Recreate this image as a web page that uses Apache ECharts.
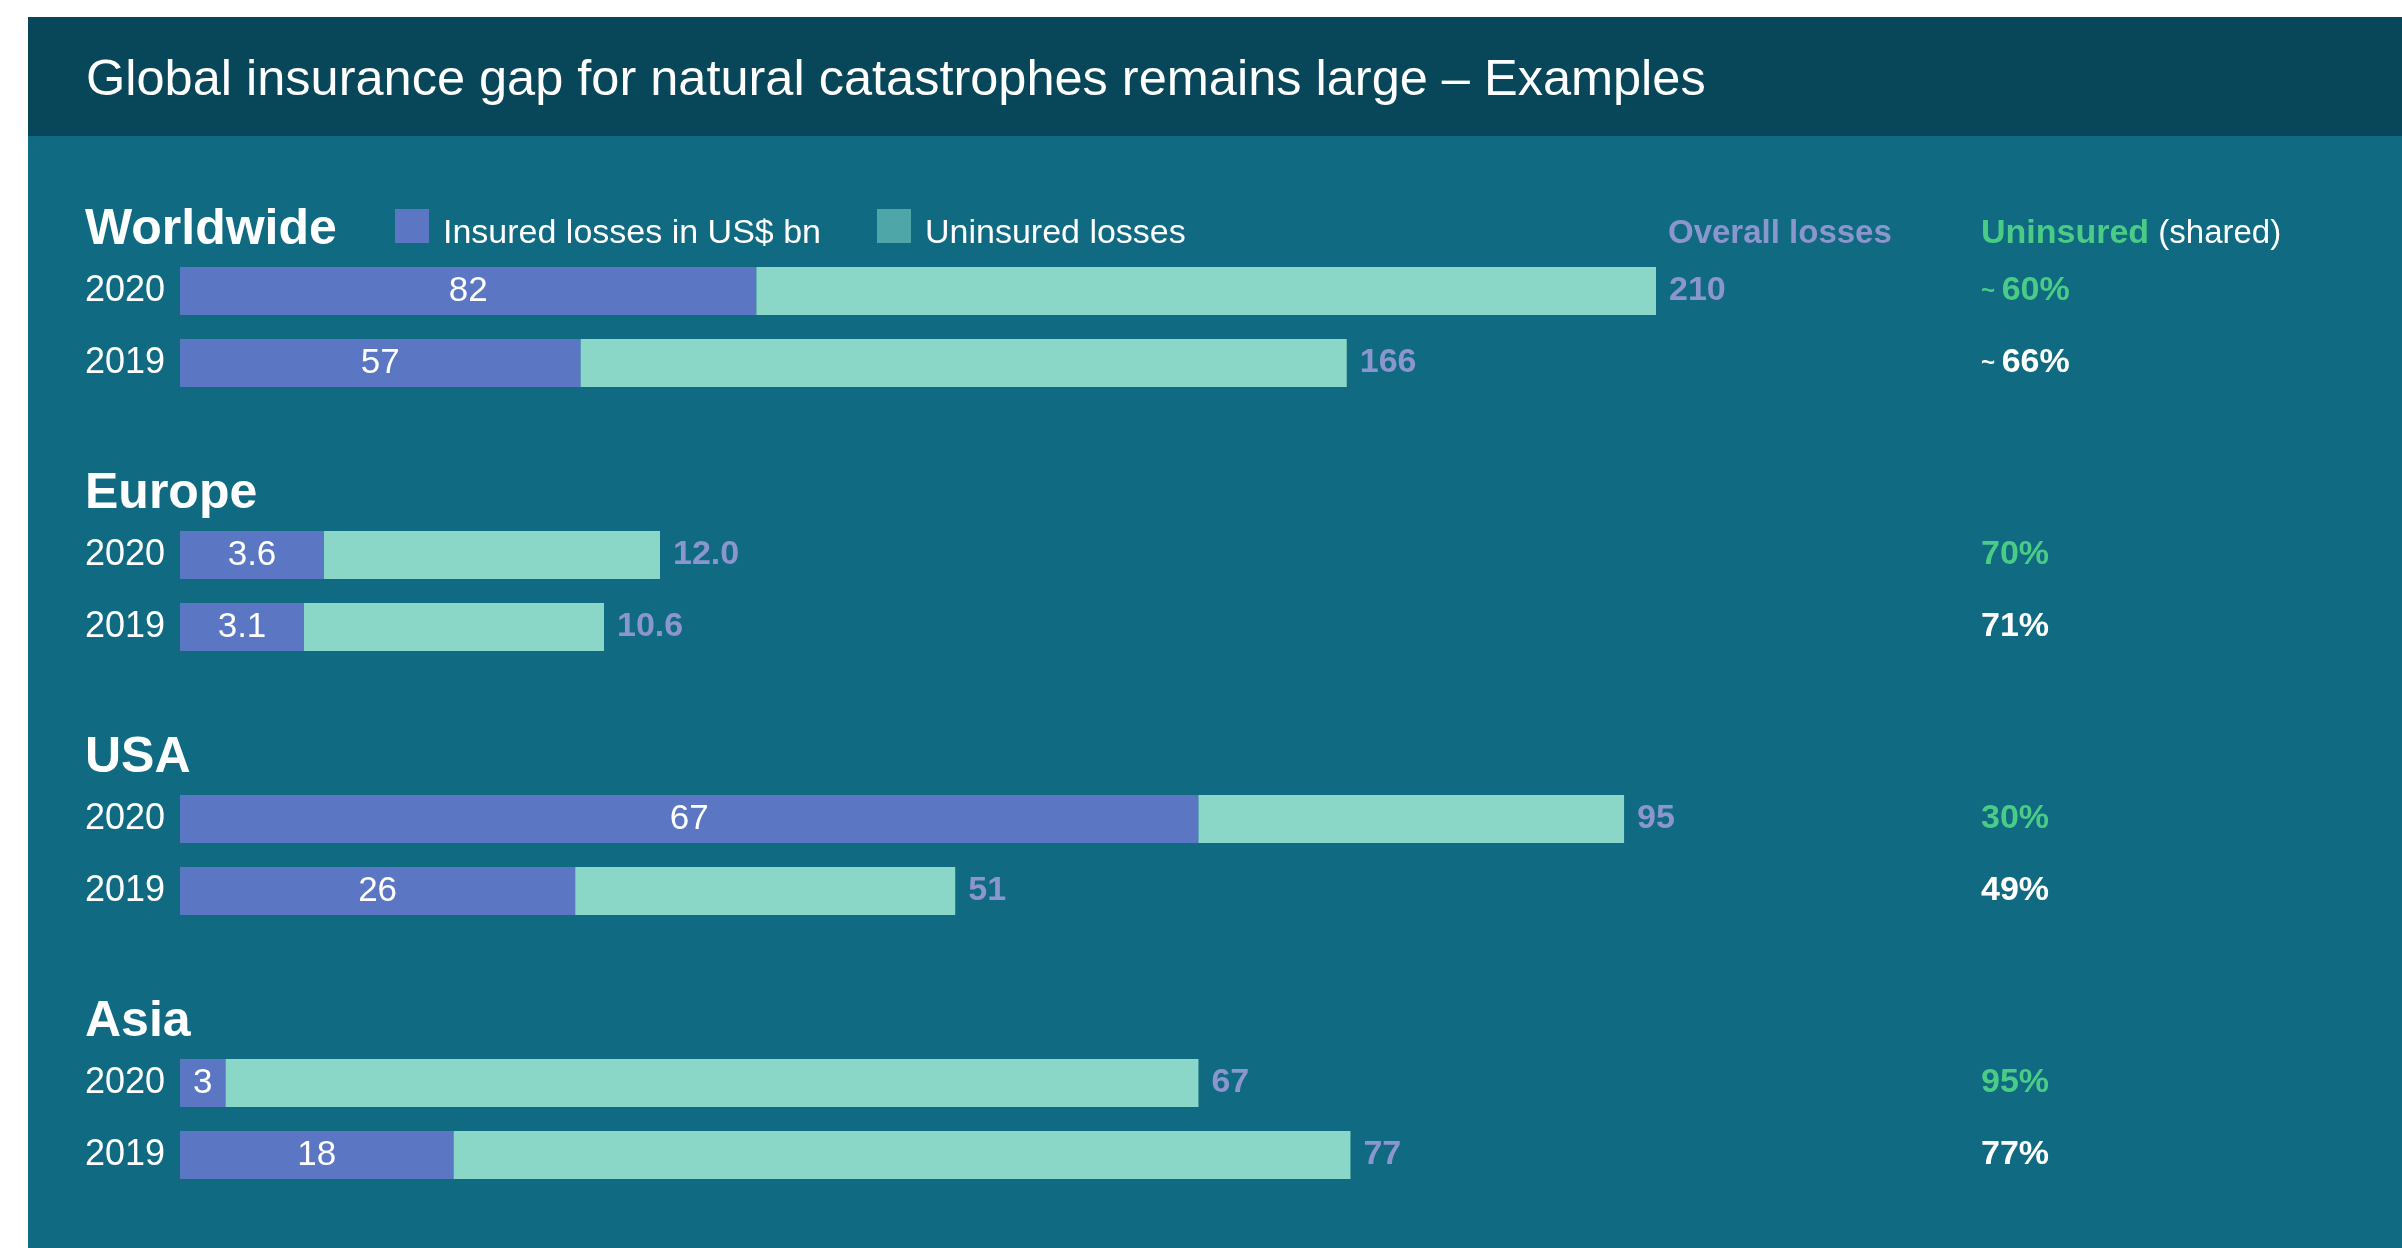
<!DOCTYPE html>
<html>
<head>
<meta charset="utf-8">
<script src="https://cdn.jsdelivr.net/npm/echarts@6/dist/echarts.min.js"></script>
<style>
html,body{margin:0;padding:0;background:#ffffff;}
#chart{width:2402px;height:1248px;}
</style>
</head>
<body>
<div id="chart"></div>
<script>
// ---- data ----
const groups = ['Worldwide', 'Europe', 'USA', 'Asia'];
const years = ['2020', '2019'];
const insuredLosses = [[82, 57], [3.6, 3.1], [67, 26], [3, 18]];
const overallLosses = [[210, 166], [12.0, 10.6], [95, 51], [67, 77]];
const valueDecimals = [0, 1, 0, 0];
const uninsuredShare = [[60, 66], [70, 71], [30, 49], [95, 77]];
const shareApprox = [true, false, false, false];
const axisMax = [210, 36.9, 97.1, 97.1];

// ---- layout / style ----
const FONT = '"Liberation Sans", Arial, sans-serif';
const C_INS = '#5B76C2', C_UNINS = '#8AD7C7', C_LEG_UNINS = '#4FA6A8';
const C_LAV = '#8B96CE', C_GREEN = '#4ACB86';
const GRID_LEFT = 180, GRID_W = 1476, GROUP_STEP = 264, FIRST_TOP = 255, GRID_H = 144;
const SHARE_X = 1981;
// square swatch 34x34 at the top of a 34x50 icon box (text sits a bit lower than swatch centre)
const LEGEND_ICON = 'path://M0,0h34v34h-34zM0,49.95h0.05v0.05h-0.05z';

const grids = [], xAxes = [], yAxes = [], series = [], graphics = [];

graphics.push({type: 'rect', z: -10, shape: {x: 28, y: 17, width: 2402 - 28, height: 1248 - 17}, style: {fill: '#0F6A82'}});
graphics.push({type: 'rect', z: -9, shape: {x: 28, y: 17, width: 2402 - 28, height: 119}, style: {fill: '#08475A'}});
graphics.push({type: 'text', x: 86, y: 81, style: {text: 'Global insurance gap for natural catastrophes remains large \u2013 Examples', fill: '#ffffff', font: '50.5px ' + FONT, verticalAlign: 'middle'}});
graphics.push({type: 'text', x: 1668, y: 234, style: {text: 'Overall losses', fill: C_LAV, font: 'bold 33px ' + FONT, verticalAlign: 'middle'}});
graphics.push({type: 'text', x: SHARE_X, y: 234, style: {
  text: '{g|Uninsured}{w| (shared)}', verticalAlign: 'middle',
  rich: {g: {fill: C_GREEN, font: 'bold 34px ' + FONT}, w: {fill: '#ffffff', font: '33px ' + FONT}}
}});

groups.forEach((g, i) => {
  const top = FIRST_TOP + GROUP_STEP * i;
  graphics.push({type: 'text', x: 85, y: top - 25, style: {text: g, fill: '#ffffff', font: 'bold 50px ' + FONT, verticalAlign: 'middle'}});
  grids.push({left: GRID_LEFT, top: top, width: GRID_W, height: GRID_H});
  xAxes.push({type: 'value', gridIndex: i, min: 0, max: axisMax[i], show: false});
  yAxes.push({
    type: 'category', gridIndex: i, data: years, inverse: true,
    axisLine: {show: false}, axisTick: {show: false}, splitLine: {show: false},
    axisLabel: {color: '#ffffff', fontSize: 36, fontFamily: FONT, margin: 15}
  });
  yAxes.push({
    type: 'category', gridIndex: i, data: years, inverse: true, position: 'right', offset: SHARE_X - GRID_LEFT - GRID_W,
    axisLine: {show: false}, axisTick: {show: false}, splitLine: {show: false},
    axisLabel: {
      align: 'left', margin: 0,
      formatter: (v, idx) => {
        const s = uninsuredShare[i][idx] + '%';
        const st = idx === 0 ? 'g' : 'w';
        return (shareApprox[i] ? '{' + st + 't|~ }' : '') + '{' + st + '|' + s + '}';
      },
      rich: {
        g: {color: C_GREEN, fontSize: 34, fontWeight: 'bold', fontFamily: FONT},
        w: {color: '#ffffff', fontSize: 34, fontWeight: 'bold', fontFamily: FONT},
        gt: {color: C_GREEN, fontSize: 24, fontWeight: 'bold', fontFamily: FONT},
        wt: {color: '#ffffff', fontSize: 24, fontWeight: 'bold', fontFamily: FONT}
      }
    }
  });
  const dec = valueDecimals[i];
  series.push({
    type: 'bar', name: 'Insured losses in US$ bn', xAxisIndex: i, yAxisIndex: 2 * i, stack: 'g' + i,
    barWidth: 48, itemStyle: {color: C_INS},
    data: insuredLosses[i],
    label: {show: true, position: 'inside', color: '#ffffff', fontSize: 35, fontFamily: FONT,
      formatter: p => Number(p.value).toFixed(dec)}
  });
  series.push({
    type: 'bar', name: 'Uninsured losses', xAxisIndex: i, yAxisIndex: 2 * i, stack: 'g' + i,
    barWidth: 48, itemStyle: {color: C_UNINS},
    data: overallLosses[i].map((o, k) => +(o - insuredLosses[i][k]).toFixed(2)),
    label: {show: true, position: 'right', distance: 13, color: C_LAV, fontSize: 34, fontWeight: 'bold', fontFamily: FONT,
      formatter: p => overallLosses[i][p.dataIndex].toFixed(dec)}
  });
});

const chart = echarts.init(document.getElementById('chart'), null, {renderer: 'canvas'});
chart.setOption({
  backgroundColor: 'transparent',
  animation: false,
  legend: {
    left: 395, top: 209, padding: 0, itemWidth: 34, itemHeight: 50, itemGap: 56, icon: LEGEND_ICON,
    textStyle: {color: '#ffffff', fontSize: 34, fontFamily: FONT, padding: [0, 0, 0, 9]},
    data: [
      {name: 'Insured losses in US$ bn', itemStyle: {color: C_INS}},
      {name: 'Uninsured losses', itemStyle: {color: C_LEG_UNINS}}
    ]
  },
  grid: grids, xAxis: xAxes, yAxis: yAxes, series: series,
  graphic: graphics
});
</script>
</body>
</html>
